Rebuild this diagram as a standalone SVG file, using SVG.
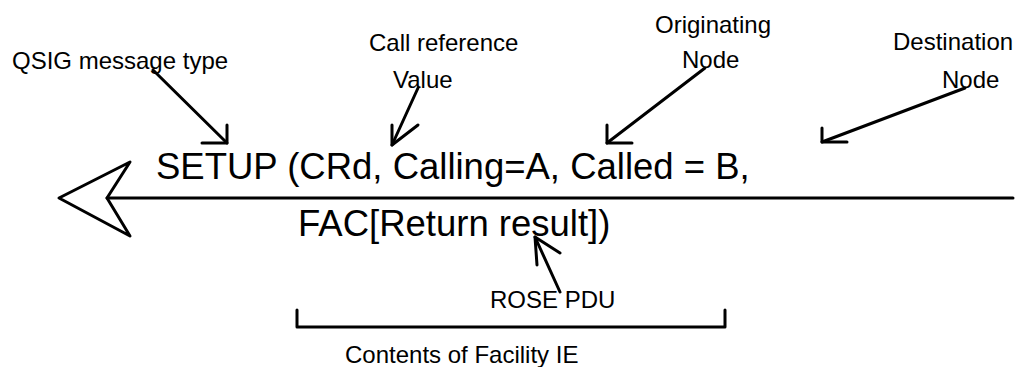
<svg xmlns="http://www.w3.org/2000/svg" width="1024" height="367" viewBox="0 0 1024 367">
<style>
text{font-family:"Liberation Sans",Arial,sans-serif;fill:#000}
.lbl{font-size:24px}
.big{font-size:36.5px}
.ln{fill:none;stroke:#000;stroke-width:3;stroke-linecap:round;stroke-linejoin:round}
</style>
<rect width="1024" height="367" fill="#fff"/>
<g id="message">
<polyline class="ln" points="1013,198 107,198"/>
<polygon class="ln" points="59,198 130,162 107,198 130,236"/>
<text class="big" x="156" y="179">SETUP (CRd, Calling=A, Called = B,</text>
<text class="big" x="298" y="236">FAC[Return result])</text>
</g>
<g id="qsig-label">
<text class="lbl" x="12" y="69">QSIG message type</text>
</g>
<g id="callref-label">
<text class="lbl" x="369" y="51">Call reference</text>
<text class="lbl" x="393" y="88">Value</text>
</g>
<g id="orig-label">
<text class="lbl" x="655" y="33">Originating</text>
<text class="lbl" x="682" y="68">Node</text>
</g>
<g id="dest-label">
<text class="lbl" x="893" y="50">Destination</text>
<text class="lbl" x="942" y="88">Node</text>
</g>
<g id="rose-label">
<text class="lbl" x="490" y="308">ROSE PDU</text>
</g>
<g id="facility-bracket">
<polyline class="ln" points="297,310 297,327 725,327 725,310"/>
<text class="lbl" x="345" y="363">Contents of Facility IE</text>
</g>
<g id="connectors">
<polyline class="ln" points="153,70 227,143"/>
<polyline class="ln" points="227,125 227,143 202,143"/>
<polyline class="ln" points="418,88 392,145"/>
<polyline class="ln" points="392,125 392,145 418,125"/>
<polyline class="ln" points="705,68 607,143"/>
<polyline class="ln" points="607,125 607,143 632,143"/>
<polyline class="ln" points="965,88 822,142"/>
<polyline class="ln" points="822,128 822,142 847,142"/>
<polyline class="ln" points="560,292 535,237"/>
<polyline class="ln" points="537,265 535,237 560,253"/>
</g>
</svg>
